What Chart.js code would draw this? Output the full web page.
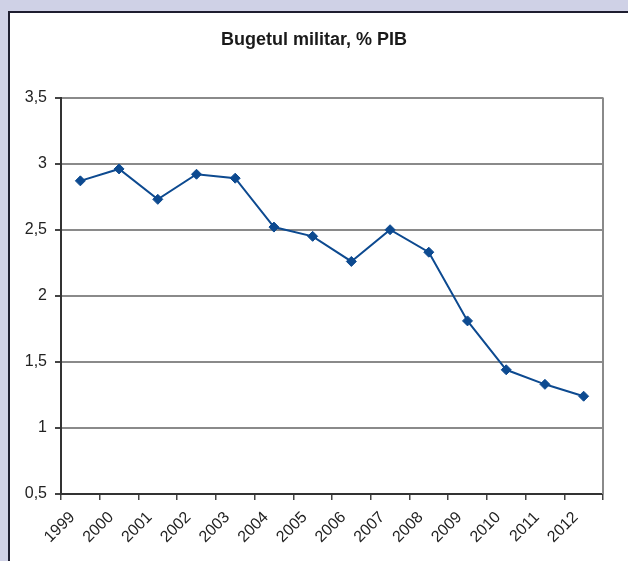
<!DOCTYPE html>
<html>
<head>
<meta charset="utf-8">
<script src="https://cdn.jsdelivr.net/npm/chart.js@4/dist/chart.umd.min.js"></script>
<style>
  html, body { margin: 0; padding: 0; }
  body { width: 628px; height: 561px; background: #cfd1e6; position: relative; overflow: hidden; }
  #panel { position: absolute; left: 8px; top: 11px; width: 650px; height: 600px; background: #ffffff; border: 2px solid #1e1e30; }
  #chart { position: absolute; left: 0; top: 0; }
</style>
</head>
<body>
<div id="panel"></div>
<canvas id="chart" width="628" height="561"></canvas>
<script>
// Military budget as a share of GDP, by year
const years = ['1999', '2000', '2001', '2002', '2003', '2004', '2005', '2006', '2007', '2008', '2009', '2010', '2011', '2012'];
const budgetPctGdp = [2.87, 2.96, 2.73, 2.92, 2.89, 2.52, 2.45, 2.26, 2.50, 2.33, 1.81, 1.44, 1.33, 1.24];
const yTickValues = [0.5, 1, 1.5, 2, 2.5, 3, 3.5];

const tickFont = { family: "'Liberation Sans', Arial, sans-serif", size: 16 };

// Thin grey frame on the right side of the plot area
const rightEdge = {
  id: 'rightEdge',
  afterDatasetsDraw(chart) {
    const { ctx, chartArea } = chart;
    ctx.save();
    ctx.strokeStyle = '#8a8a8a';
    ctx.lineWidth = 2;
    ctx.beginPath();
    ctx.moveTo(chartArea.right, chartArea.top);
    ctx.lineTo(chartArea.right, chartArea.bottom);
    ctx.stroke();
    ctx.restore();
  }
};

new Chart(document.getElementById('chart'), {
  type: 'line',
  data: {
    labels: years,
    datasets: [{
      data: budgetPctGdp,
      borderColor: '#0d4a90',
      backgroundColor: '#0d4a90',
      borderWidth: 2,
      pointStyle: 'rectRot',
      pointRadius: 5,
      pointBorderWidth: 1,
      tension: 0,
      fill: false
    }]
  },
  options: {
    responsive: false,
    animation: false,
    layout: { padding: 0 },
    plugins: {
      legend: { display: false },
      tooltip: { enabled: false },
      title: {
        display: true,
        text: 'Bugetul militar, % PIB',
        color: '#1a1a1a',
        font: { family: "'Liberation Sans', Arial, sans-serif", size: 18, weight: 'bold' },
        padding: { top: 29, bottom: 47 }
      }
    },
    scales: {
      x: {
        offset: true,
        grid: {
          offset: true,
          drawOnChartArea: false,
          drawTicks: true,
          tickLength: 6,
          tickColor: '#444444',
          lineWidth: 1.5
        },
        border: { color: '#333333', width: 2 },
        ticks: {
          color: '#222222',
          font: tickFont,
          minRotation: 45,
          maxRotation: 45,
          padding: 8,
          labelOffset: -8,
          autoSkip: false
        },
        afterFit(scale) { scale.height = 67; }
      },
      y: {
        min: 0.5,
        max: 3.5,
        afterBuildTicks(scale) { scale.ticks = yTickValues.map(v => ({ value: v })); },
        grid: {
          color: '#8a8a8a',
          lineWidth: 2,
          drawTicks: true,
          tickLength: 6,
          tickColor: '#444444'
        },
        border: { color: '#333333', width: 2 },
        ticks: {
          color: '#222222',
          font: tickFont,
          padding: 8,
          callback: v => String(v).replace('.', ',')
        },
        afterFit(scale) { scale.width = 61; }
      },
      // empty right-hand spacer so the title stays centred on the full width
      yRight: {
        position: 'right',
        display: true,
        min: 0.5,
        max: 3.5,
        grid: { display: false },
        border: { display: false },
        ticks: { display: false },
        afterFit(scale) { scale.width = 25; }
      }
    }
  },
  plugins: [rightEdge]
});
</script>
</body>
</html>
